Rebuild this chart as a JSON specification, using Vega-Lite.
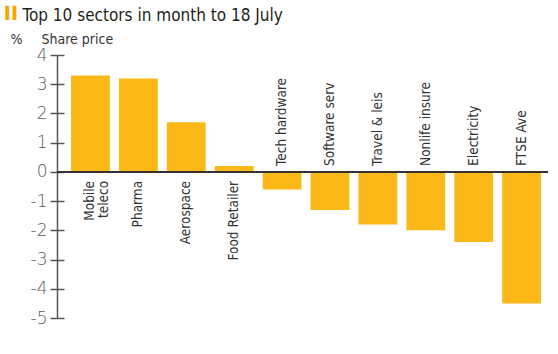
{
  "$schema": "https://vega.github.io/schema/vega-lite/v6.json",
  "width": 491,
  "height": 263,
  "autosize": {"type": "none"},
  "padding": {"left": 57, "top": 55, "right": 10, "bottom": 36},
  "background": "white",
  "config": {"view": {"stroke": null}, "text": {"lineBreak": "\n"}},
  "data": {
    "values": [
      {"sector": "Mobile teleco", "label": "Mobile\nteleco", "value": 3.3},
      {"sector": "Pharma", "label": "Pharma", "value": 3.2},
      {"sector": "Aerospace", "label": "Aerospace", "value": 1.7},
      {"sector": "Food Retailer", "label": "Food Retailer", "value": 0.2},
      {"sector": "Tech hardware", "label": "Tech hardware", "value": -0.6},
      {"sector": "Software serv", "label": "Software serv", "value": -1.3},
      {"sector": "Travel & leis", "label": "Travel & leis", "value": -1.8},
      {"sector": "Nonlife insure", "label": "Nonlife insure", "value": -2.0},
      {"sector": "Electricity", "label": "Electricity", "value": -2.4},
      {"sector": "FTSE Ave", "label": "FTSE Ave", "value": -4.5}
    ]
  },
  "resolve": {"axis": {"y": "independent", "x": "independent"}},
  "layer": [
    {
      "mark": {"type": "bar", "color": "#FBB817"},
      "encoding": {
        "x": {
          "field": "sector", "type": "nominal", "sort": null,
          "scale": {"paddingInner": 0.19, "paddingOuter": 0.22, "align": 0.667},
          "axis": {
            "labels": false, "ticks": false, "domain": false,
            "title": "▌▌", "titleFont": "DejaVu Sans Mono", "titleFontSize": 12,
            "titleFontWeight": "normal", "titleColor": "#F5A800",
            "titleX": -52, "titleY": -302, "titleAlign": "left", "titleBaseline": "alphabetic", "titleAngle": 0
          }
        },
        "y": {
          "field": "value", "type": "quantitative",
          "scale": {"domain": [-5, 4], "nice": false},
          "axis": {
            "values": [-5, -4, -3, -2, -1, 0, 1, 2, 3, 4],
            "labelExpr": "replace(datum.label, '−', '-')",
            "grid": false, "tickSize": 7, "tickWidth": 1.5, "tickColor": "#555555",
            "domainColor": "#555555", "domainWidth": 1.5,
            "labelFont": "DejaVu Sans", "labelFontWeight": 200, "labelFontSize": 17, "labelColor": "#5a5a5a", "labelPadding": 3,
            "title": "%", "titleFont": "DejaVu Sans Condensed, Liberation Sans", "titleFontSize": 14, "titleFontWeight": "normal",
            "titleColor": "#333333", "titleAngle": 0, "titleX": -47, "titleY": -11.7,
            "titleAlign": "left", "titleBaseline": "alphabetic"
          }
        }
      }
    },
    {
      "mark": {"type": "rule", "color": "#333333", "strokeWidth": 1.5},
      "encoding": {
        "y": {
          "datum": 0, "type": "quantitative",
          "axis": {
            "orient": "left", "offset": -7,
            "values": [-5, -4, -3, -2, -1, 0, 1, 2, 3, 4],
            "grid": false, "labels": false, "domain": false,
            "tickSize": 7, "tickWidth": 1.5, "tickColor": "#555555",
            "title": "Share price", "titleFont": "DejaVu Sans Condensed, Liberation Sans", "titleFontSize": 14, "titleFontWeight": "normal",
            "titleColor": "#333333", "titleAngle": 0, "titleX": -23, "titleY": -11.7,
            "titleAlign": "left", "titleBaseline": "alphabetic"
          }
        }
      }
    },
    {
      "transform": [{"filter": "datum.value >= 0"}],
      "mark": {"type": "text", "angle": 270, "align": "right", "baseline": "middle", "dx": -9,
               "font": "DejaVu Sans Condensed, Liberation Sans", "fontSize": 13.5, "color": "#333333", "lineHeight": 14},
      "encoding": {
        "x": {
          "field": "sector", "type": "nominal", "sort": null,
          "axis": {
            "orient": "bottom", "labels": false, "ticks": false, "domain": false,
            "title": "Top 10 sectors in month to 18 July",
            "titleFont": "DejaVu Sans Condensed, Liberation Sans", "titleFontSize": 17, "titleFontWeight": "normal",
            "titleColor": "#231f20", "titleX": -35, "titleY": -297.5, "titleAlign": "left",
            "titleBaseline": "alphabetic", "titleAngle": 0
          }
        },
        "y": {"datum": 0, "type": "quantitative", "axis": null},
        "text": {"field": "label"}
      }
    },
    {
      "transform": [{"filter": "datum.value < 0"}],
      "mark": {"type": "text", "angle": 270, "align": "left", "baseline": "middle", "dx": 6,
               "font": "DejaVu Sans Condensed, Liberation Sans", "fontSize": 13.5, "color": "#333333", "lineHeight": 14},
      "encoding": {
        "x": {"field": "sector", "type": "nominal", "sort": null, "axis": null},
        "y": {"datum": 0, "type": "quantitative", "axis": null},
        "text": {"field": "label"}
      }
    }
  ]
}
